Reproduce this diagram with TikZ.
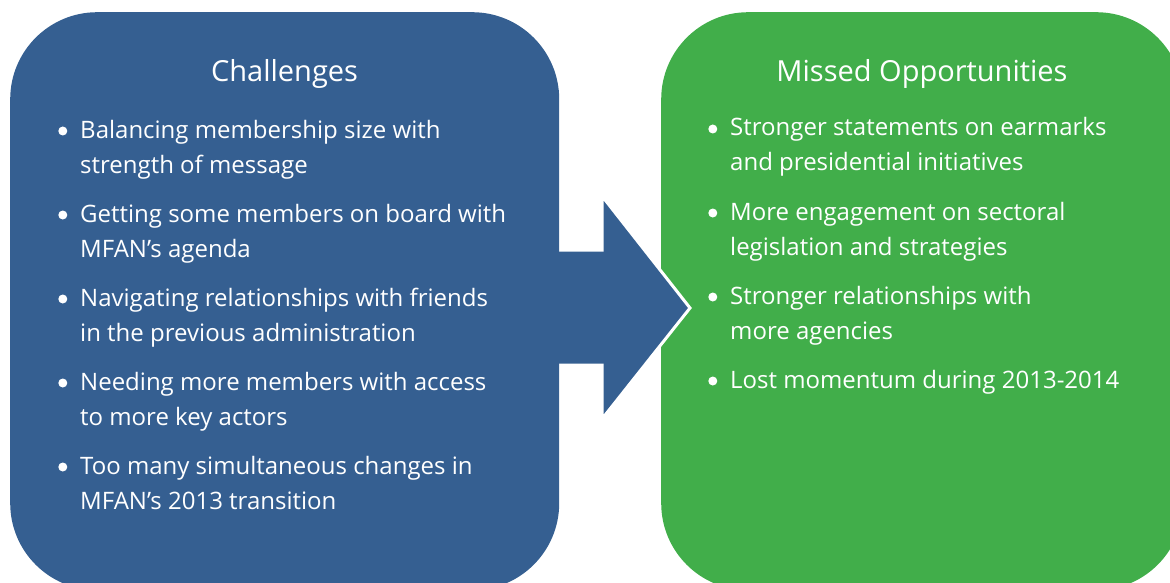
\documentclass[tikz,border=0pt]{standalone}
\usepackage{fontspec}
\setmainfont{Open Sans}
\usetikzlibrary{positioning}
\definecolor{chblue}{HTML}{355F91}
\definecolor{mogreen}{HTML}{41AE4A}
\tikzset{
	panel/.style={anchor=north west, rounded corners=87pt, inner sep=0pt, draw=none},
	heading/.style={text=white, font=\fontsize{29}{34}\selectfont, anchor=base, inner sep=0pt},
	item/.style={text=white, font=\fontsize{24}{35}\selectfont, anchor=base west, align=left, inner sep=0pt},
	dot/.style={circle, fill=white, inner sep=0pt, minimum size=9pt},
	bul/.style={dot, left=12.5pt of #1.base west, yshift=7pt},
}
\begin{document}
\begin{tikzpicture}[x=1pt,y=-1pt]
		\useasboundingbox (0,0) rectangle (1170,583);
		\clip (0,0) rectangle (1170,583);
		\def\top{12}
		\def\lh{35}	% line height, base anchor sits on the last line
		% missed opportunities box
			\node [panel, fill=mogreen, minimum width=522pt, minimum height=578pt] (opps) at (661,\top) {};
		% arrow
			\draw [fill=chblue, draw=white, line width=3pt, line join=miter]
				(530,250) -- (602,250) -- (602,196) -- (690,308) -- (602,419) -- (602,365) -- (530,365) -- cycle;
		% challenges box
			\node [panel, fill=chblue, minimum width=549pt, minimum height=578pt] (chall) at (10,\top) {};
		% headings
			\node [heading] (challtitle) at (284.5,82) {Challenges};
			\node [heading] (oppstitle) at (922,82) {Missed Opportunities};
		% challenges
			\node [item] (c1) at (80,138+\lh) {Balancing membership size with\\strength of message};
			\node [item] (c2) at (80,222+\lh) {Getting some members on board with\\MFAN’s agenda};
			\node [item] (c3) at (80,306+\lh) {Navigating relationships with friends\\in the previous administration};
			\node [item] (c4) at (80,390+\lh) {Needing more members with access\\to more key actors};
			\node [item] (c5) at (80,474+\lh) {Too many simultaneous changes in\\MFAN’s 2013 transition};
			\node [bul=c1, yshift=\lh] (c1dot) {};
			\node [bul=c2, yshift=\lh] (c2dot) {};
			\node [bul=c3, yshift=\lh] (c3dot) {};
			\node [bul=c4, yshift=\lh] (c4dot) {};
			\node [bul=c5, yshift=\lh] (c5dot) {};
		% missed opportunities
			\node [item] (m1) at (730,136+\lh) {Stronger statements on earmarks\\and presidential initiatives};
			\node [item] (m2) at (730,220+\lh) {More engagement on sectoral\\legislation and strategies};
			\node [item] (m3) at (730,304+\lh) {Stronger relationships with\\more agencies};
			\node [item] (m4) at (730,388) {Lost momentum during 2013-2014};
			\node [bul=m1, yshift=\lh] (m1dot) {};
			\node [bul=m2, yshift=\lh] (m2dot) {};
			\node [bul=m3, yshift=\lh] (m3dot) {};
			\node [bul=m4] (m4dot) {};
	\end{tikzpicture}
\end{document}
